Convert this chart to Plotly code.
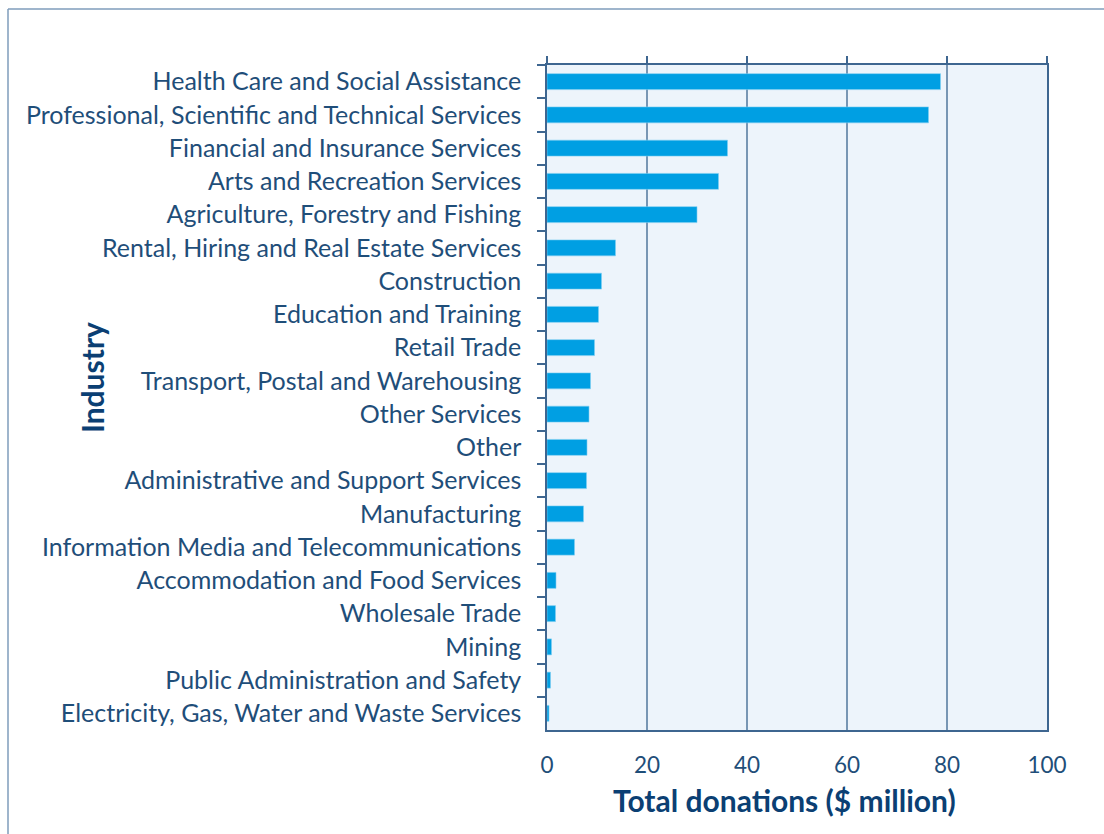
import plotly.graph_objects as go

industries = [
    "Health Care and Social Assistance",
    "Professional, Scientific and Technical Services",
    "Financial and Insurance Services",
    "Arts and Recreation Services",
    "Agriculture, Forestry and Fishing",
    "Rental, Hiring and Real Estate Services",
    "Construction",
    "Education and Training",
    "Retail Trade",
    "Transport, Postal and Warehousing",
    "Other Services",
    "Other",
    "Administrative and Support Services",
    "Manufacturing",
    "Information Media and Telecommunications",
    "Accommodation and Food Services",
    "Wholesale Trade",
    "Mining",
    "Public Administration and Safety",
    "Electricity, Gas, Water and Waste Services",
]
donations = [78.7, 76.3, 36.1, 34.3, 30.0, 13.7, 10.9, 10.3, 9.5, 8.7,
             8.4, 8.0, 7.9, 7.3, 5.5, 1.8, 1.7, 0.9, 0.7, 0.4]
x_ticks = [0, 20, 40, 60, 80, 100]

FONT = "Lato"
TEXT = "#1F4E79"
TITLE = "#0B3F73"
AXIS = "#3E6690"
GRID = "#7896B4"

fig = go.Figure()
fig.add_trace(go.Bar(
    x=donations, y=industries, orientation="h",
    marker=dict(color="#009FE3", line=dict(color="#7FCFF1", width=0.6)),
    width=0.48, hoverinfo="x+y", showlegend=False,
))
# invisible trace to render top tick marks
fig.add_trace(go.Scatter(x=[0], y=[industries[0]], xaxis="x2", mode="markers",
                         marker=dict(opacity=0), showlegend=False, hoverinfo="skip"))

n = len(industries)
fig.update_layout(
    width=1104, height=834,
    margin=dict(l=547, r=57, t=65, b=104),
    paper_bgcolor="white", plot_bgcolor="#EDF4FB",
    font=dict(family=FONT, color=TEXT, size=25),
    xaxis=dict(range=[0, 100], tickvals=x_ticks, ticktext=[str(v) for v in x_ticks],
               showgrid=True, gridcolor=GRID, gridwidth=1.5,
               showline=True, linecolor=AXIS, linewidth=1.5, mirror=True,
               ticks="", zeroline=False, ticklabelstandoff=14,
               tickfont=dict(size=22.5, color=TEXT, family=FONT), fixedrange=True),
    xaxis2=dict(range=[0, 100], tickvals=x_ticks, overlaying="x", side="top",
                ticks="outside", ticklen=8, tickwidth=1.5, tickcolor=AXIS,
                showticklabels=False, showgrid=False, zeroline=False, showline=False),
    yaxis=dict(range=[n - 0.5, -0.5], autorange=False,
               categoryorder="array", categoryarray=industries,
               ticks="outside", tickson="boundaries", ticklen=8, tickwidth=1.5,
               tickcolor=AXIS, showline=True, linecolor=AXIS, linewidth=1.5, mirror=True,
               showgrid=False, zeroline=False, ticklabelstandoff=19,
               tickfont=dict(size=25, color=TEXT, family=FONT)),
    annotations=[
        dict(text="<b>Industry</b>", textangle=-90, xref="paper", yref="paper",
             x=(92 - 547) / 500, y=(730 - 378) / 665, xanchor="center", yanchor="middle",
             showarrow=False, font=dict(size=30, color=TITLE, family=FONT)),
        dict(text="<b>Total donations ($ million)</b>", xref="paper", yref="paper",
             x=(784 - 547) / 500, y=(730 - 800) / 665, xanchor="center", yanchor="middle",
             showarrow=False, font=dict(size=30, color=TITLE, family=FONT)),
    ],
    shapes=[
        dict(type="line", xref="paper", yref="paper", x0=(8 - 547) / 500, x1=(8 - 547) / 500,
             y0=(730 - 9) / 665, y1=(730 - 840) / 665, line=dict(color="#7F9CBB", width=1.5)),
        dict(type="line", xref="paper", yref="paper", x0=(8 - 547) / 500, x1=(1110 - 547) / 500,
             y0=(730 - 9) / 665, y1=(730 - 9) / 665, line=dict(color="#7F9CBB", width=1.5)),
    ],
)

fig.write_html("out.html", config={"displayModeBar": False},
               post_script="document.body.style.margin='0';")
